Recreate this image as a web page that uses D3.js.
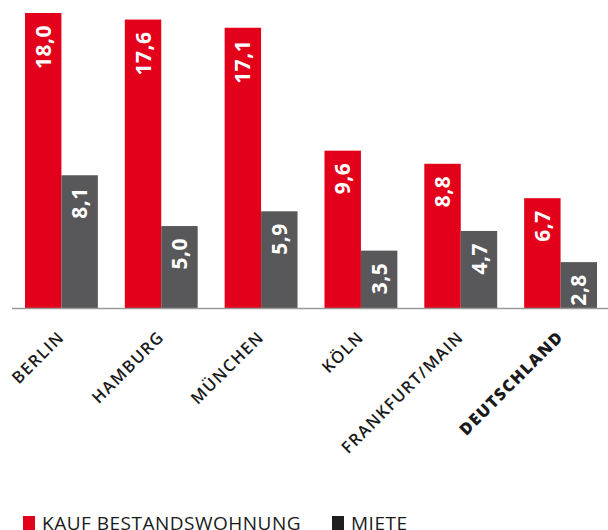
<!DOCTYPE html>
<html>
<head>
<meta charset="utf-8">
<script src="https://cdn.jsdelivr.net/npm/d3@7"></script>
<style>
  body { margin: 0; background: #fff; }
  svg { display: block; }
  .cat { font-family: "Open Sans", sans-serif; font-size: 16.5px; font-weight: 600; fill: #1a1a1a; letter-spacing: 1.4px; }
  .val { font-family: "Open Sans", sans-serif; font-size: 21px; font-weight: 700; fill: #fff; letter-spacing: 0.5px; }
  .leg { font-family: "Open Sans", sans-serif; font-size: 19px; fill: #1a1a1a; letter-spacing: 0.5px; }
</style>
</head>
<body>
<div id="chart"></div>
<script>
// data
const cities = ['BERLIN', 'HAMBURG', 'MÜNCHEN', 'KÖLN', 'FRANKFURT/MAIN', 'DEUTSCHLAND'];
const kauf = [18.0, 17.6, 17.1, 9.6, 8.8, 6.7];
const miete = [8.1, 5.0, 5.9, 3.5, 4.7, 2.8];
const seriesNames = ['KAUF BESTANDSWOHNUNG', 'MIETE'];
const seriesKeys = ['kauf', 'miete'];

const width = 608, height = 530;
const baseY = 308;
const colors = { kauf: '#e2001a', miete: '#58585a' };

let rows = cities.map((c, i) => ({ city: c, kauf: kauf[i], miete: miete[i] }));

let svg = d3.select('#chart').append('svg')
    .attr('width', width)
    .attr('height', height);

let x = d3.scaleBand()
    .domain(cities)
    .range([12, 610])
    .paddingInner(0.27)
    .paddingOuter(0.13);

let xSub = d3.scaleBand()
    .domain(seriesKeys)
    .range([0, x.bandwidth()]);

let y = d3.scaleLinear()
    .domain([0, 18])
    .range([baseY, 13]);

let groups = svg.selectAll('g.grp')
    .data(rows)
    .enter().append('g')
    .attr('class', 'grp')
    .attr('transform', d => `translate(${x(d.city)},0)`);

groups.selectAll('rect')
    .data(d => seriesKeys.map(k => ({ key: k, value: d[k] })))
    .enter().append('rect')
    .attr('x', d => xSub(d.key))
    .attr('y', d => y(d.value))
    .attr('width', xSub.bandwidth())
    .attr('height', d => baseY - y(d.value))
    .attr('fill', d => colors[d.key]);

// value labels, rotated, inside the top of each bar
groups.selectAll('text.val')
    .data(d => seriesKeys.map(k => ({ key: k, value: d[k] })))
    .enter().append('text')
    .attr('class', 'val')
    .attr('text-anchor', 'end')
    .attr('dy', '0.36em')
    .attr('transform', d => `translate(${xSub(d.key) + xSub.bandwidth() / 2},${y(d.value) + 12}) rotate(-90)`)
    .text(d => d.value.toFixed(1).replace('.', ','));

// baseline
svg.append('line')
    .attr('x1', 12).attr('x2', width)
    .attr('y1', baseY + 0.5).attr('y2', baseY + 0.5)
    .attr('stroke', '#9a9a9a')
    .attr('stroke-width', 1.5);

// category labels
svg.selectAll('text.cat')
    .data(cities)
    .enter().append('text')
    .attr('class', 'cat')
    .attr('text-anchor', 'end')
    .style('font-weight', d => d === 'DEUTSCHLAND' ? 800 : null)
    .attr('transform', d => `translate(${x(d) + x.bandwidth() / 2 + 4},338) rotate(-45)`)
    .text(d => d);

// legend
let legX = [23, 332];
let leg = svg.selectAll('g.leg')
    .data(seriesKeys)
    .enter().append('g')
    .attr('transform', (d, i) => `translate(${legX[i]},0)`);

leg.append('rect')
    .attr('x', 0).attr('y', 516)
    .attr('width', 12).attr('height', 14)
    .attr('fill', d => d === 'kauf' ? colors.kauf : '#1e1e1e');

leg.append('text')
    .attr('class', 'leg')
    .attr('x', 19)
    .attr('y', 530)
    .text((d, i) => seriesNames[i]);
</script>
</body>
</html>
